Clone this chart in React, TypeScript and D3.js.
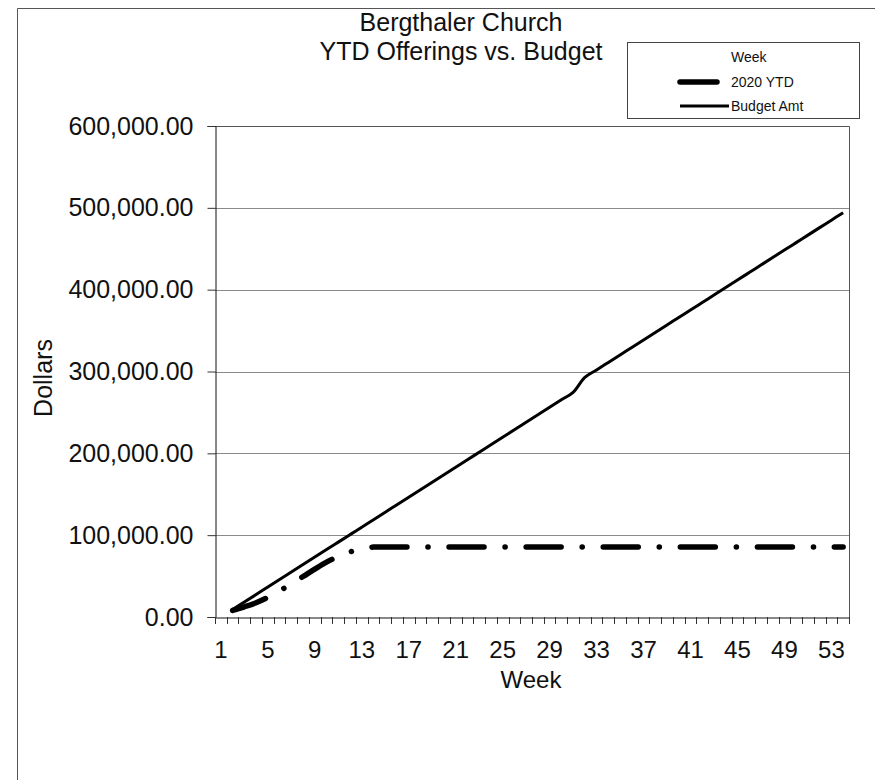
import * as d3 from "d3";
import { useEffect, useRef } from "react";

// categories: week numbers on the x axis
const weeks = [
  1, 2, 3, 4, 5, 6, 7, 8, 9, 10, 11, 12, 13, 14, 15, 16, 17, 18, 19, 20, 21, 22, 23, 24, 25, 26, 27,
  28, 29, 30, 31, 32, 33, 34, 35, 36, 37, 38, 39, 40, 41, 42, 43, 44, 45, 46, 47, 48, 49, 50, 51, 52,
  53, 54,
];
const weekLabels = [1, 5, 9, 13, 17, 21, 25, 29, 33, 37, 41, 45, 49, 53];
const dollarTicks = [0, 100000, 200000, 300000, 400000, 500000, 600000];

// 2020 YTD offerings (week 1 empty)
const ytd2020 = [
  null, 8000, 12500, 17500, 24000, 32000, 40500, 49500, 58500, 67000, 74000, 79500, 83500, 85500,
  85500, 85500, 85500, 85500, 85500, 85500, 85500, 85500, 85500, 85500, 85500, 85500, 85500, 85500,
  85500, 85500, 85500, 85500, 85500, 85500, 85500, 85500, 85500, 85500, 85500, 85500, 85500, 85500,
  85500, 85500, 85500, 85500, 85500, 85500, 85500, 85500, 85500, 85500, 85500, 85500,
];

// budget amount (week 1 empty)
const budgetAmt = [
  null, 9150, 18300, 27450, 36600, 45750, 54900, 64050, 73200, 82350, 91500, 100650, 109800, 118950,
  128100, 137250, 146400, 155550, 164700, 173850, 183000, 192150, 201300, 210450, 219600, 228750,
  237900, 247050, 256200, 265350, 274500, 292800, 301950, 311100, 320250, 329400, 338550, 347700,
  356850, 366000, 375150, 384300, 393450, 402600, 411750, 420900, 430050, 439200, 448350, 457500,
  466650, 475800, 484950, 494100,
];

const FONT = "'Liberation Sans', Arial, sans-serif";
const YTD_DASH = "35,21,0.1,21";

export default function App() {
  const ref = useRef<SVGSVGElement | null>(null);

  useEffect(() => {
    if (!ref.current) return;
    const svg = d3.select(ref.current);
    svg.selectAll("*").remove();

    const left = 215;
    const right = 849;
    const top = 126;
    const bottom = 617;

    const x = d3.scaleBand<string>().domain(weeks.map(String)).range([left, right]).padding(0);
    const y = d3.scaleLinear().domain([0, 600000]).range([bottom, top]);
    const cx = (w: number) => (x(String(w)) ?? 0) + x.bandwidth() / 2;

    // outer chart frame (runs off the page right and bottom)
    svg.append("path")
      .attr("d", "M17.5,780V8.5H875")
      .attr("fill", "none")
      .attr("stroke", "#555")
      .attr("stroke-width", 1);

    // title
    const title = svg.append("g").attr("font-family", FONT).attr("font-size", 25).attr("text-anchor", "middle").attr("fill", "#111");
    title.append("text").attr("x", 461).attr("y", 31).text("Bergthaler Church");
    title.append("text").attr("x", 461).attr("y", 60).text("YTD Offerings vs. Budget");

    // gridlines
    svg.append("g")
      .selectAll("line")
      .data(dollarTicks.filter((d) => d > 0 && d < 600000))
      .enter()
      .append("line")
      .attr("x1", left)
      .attr("x2", right)
      .attr("y1", (d) => Math.round(y(d)) + 0.5)
      .attr("y2", (d) => Math.round(y(d)) + 0.5)
      .attr("stroke", "#8a8a8a")
      .attr("stroke-width", 1);

    // plot area border (top, right)
    svg.append("path")
      .attr("d", `M${left},${top + 0.5}H${right + 0.5}V${bottom}`)
      .attr("fill", "none")
      .attr("stroke", "#555")
      .attr("stroke-width", 1);

    // y axis
    const yAxis = svg.append("g")
      .attr("transform", `translate(${left + 0.5},0)`)
      .call(d3.axisLeft(y).tickValues(dollarTicks).tickSize(8).tickPadding(14).tickFormat((d) => d3.format(",.2f")(d as number)));
    yAxis.select(".domain").attr("stroke", "#111");
    yAxis.selectAll(".tick line").attr("stroke", "#333");
    yAxis.selectAll("text").attr("font-family", FONT).attr("font-size", 25).attr("fill", "#111");

    // x axis: labels at category centres, ticks on category boundaries
    const xAxis = svg.append("g")
      .attr("transform", `translate(0,${bottom + 0.5})`)
      .call(d3.axisBottom(x).tickValues(weekLabels.map(String)).tickSize(0).tickPadding(23).tickSizeOuter(0));
    xAxis.select(".domain").attr("stroke", "#111");
    xAxis.selectAll("text").attr("font-family", FONT).attr("font-size", 24).attr("fill", "#111");
    const bounds = weeks.map((w) => x(String(w)) ?? 0).concat([right]);
    svg.append("g")
      .selectAll("line")
      .data(bounds)
      .enter()
      .append("line")
      .attr("x1", (d) => Math.round(d) + 0.5)
      .attr("x2", (d) => Math.round(d) + 0.5)
      .attr("y1", bottom)
      .attr("y2", bottom + 7)
      .attr("stroke", "#333")
      .attr("stroke-width", 1);

    // axis titles
    svg.append("text")
      .attr("transform", "translate(52,378) rotate(-90)")
      .attr("text-anchor", "middle")
      .attr("font-family", FONT)
      .attr("font-size", 25)
      .attr("fill", "#111")
      .text("Dollars");
    svg.append("text")
      .attr("x", 531)
      .attr("y", 688)
      .attr("text-anchor", "middle")
      .attr("font-family", FONT)
      .attr("font-size", 24)
      .attr("fill", "#111")
      .text("Week");

    // series
    const line = d3.line<[number, number | null]>()
      .defined((d) => d[1] != null)
      .x((d) => cx(d[0]))
      .y((d) => y(d[1] as number))
      .curve(d3.curveCatmullRom);

    svg.append("path")
      .datum(weeks.map((w, i) => [w, budgetAmt[i]] as [number, number | null]))
      .attr("d", line)
      .attr("fill", "none")
      .attr("stroke", "#000")
      .attr("stroke-width", 3)
      .attr("stroke-linejoin", "round");

    svg.append("path")
      .datum(weeks.map((w, i) => [w, ytd2020[i]] as [number, number | null]))
      .attr("d", line)
      .attr("fill", "none")
      .attr("stroke", "#000")
      .attr("stroke-width", 5.5)
      .attr("stroke-linecap", "round")
      .attr("stroke-dasharray", YTD_DASH);

    // legend
    const lg = svg.append("g").attr("font-family", FONT).attr("font-size", 14).attr("fill", "#111");
    lg.append("rect")
      .attr("x", 627.5)
      .attr("y", 42.5)
      .attr("width", 232)
      .attr("height", 76)
      .attr("fill", "#fff")
      .attr("stroke", "#444")
      .attr("stroke-width", 1);
    lg.append("text").attr("x", 731).attr("y", 62).text("Week");
    lg.append("line")
      .attr("x1", 680).attr("x2", 717).attr("y1", 82).attr("y2", 82)
      .attr("stroke", "#000").attr("stroke-width", 5.5).attr("stroke-linecap", "round");
    lg.append("text").attr("x", 731).attr("y", 87).text("2020 YTD");
    lg.append("line")
      .attr("x1", 680).attr("x2", 729).attr("y1", 106).attr("y2", 106)
      .attr("stroke", "#000").attr("stroke-width", 3);
    lg.append("text").attr("x", 731).attr("y", 111).text("Budget Amt");
  }, []);

  return (
    <svg
      ref={ref}
      width={875}
      height={780}
      viewBox="0 0 875 780"
      style={{ position: "absolute", left: 0, top: 0, background: "#fff" }}
    />
  );
}
